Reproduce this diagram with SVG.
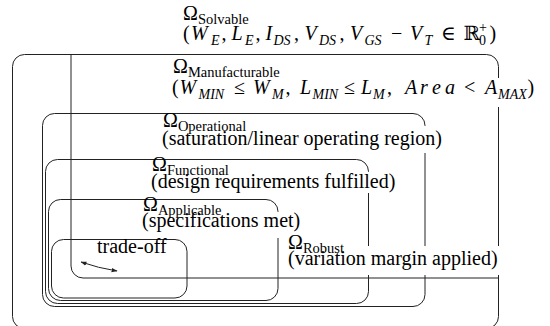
<svg xmlns="http://www.w3.org/2000/svg" width="550" height="326" viewBox="0 0 550 326">
<style>
.box{fill:none;stroke:#222;stroke-width:1}
.bg{fill:#fff}
.t{font-family:"Liberation Serif","Times New Roman","DejaVu Serif",serif;font-size:20px;fill:#000;white-space:pre}
.s{font-size:14.5px}
.m{font-size:14px}
.i{font-style:italic}
.arr{fill:none;stroke:#222;stroke-width:1}
</style>
<defs>
<marker id="ah" viewBox="0 0 10 10" refX="9" refY="5" markerWidth="6" markerHeight="6" orient="auto-start-reverse" markerUnits="userSpaceOnUse">
<path d="M0,1.5 L10,5 L0,8.5 Z" fill="#222"/>
</marker>
</defs>
<rect width="550" height="326" fill="#fff"/>

<g id="manufacturable">
<rect class="box" x="12.5" y="54.5" width="486" height="274" rx="12"/>
</g>
<g id="robust">
<path class="box" d="M71,54.5 V266 A12,12 0 0 0 83,278 H498.5"/>
</g>
<g id="operational">
<rect class="box" x="42.5" y="113.5" width="382.5" height="193" rx="12"/>
</g>
<g id="functional">
<rect class="box" x="45.5" y="159.5" width="323" height="144" rx="12"/>
</g>
<g id="applicable">
<rect class="box" x="48.5" y="199.5" width="229.5" height="101" rx="12"/>
</g>
<g id="tradeoff">
<rect class="box" x="51.5" y="239.5" width="135.5" height="58.5" rx="12"/>
<text class="t" x="97" y="253">trade-off</text>
</g>

<g id="connectors">
<path class="arr" d="M81,262 Q98,268 117,271" marker-start="url(#ah)" marker-end="url(#ah)"/>
</g>

<g id="solvable">
<text class="t" x="183" y="20">Ω<tspan class="s" dy="4">Solvable</tspan></text>
<text class="t"><tspan x="183" y="40">(</tspan><tspan class="i" x="191" y="40">W</tspan><tspan class="m i" x="211" y="44.5">E</tspan><tspan x="221.5" y="40">,</tspan><tspan class="i" x="231.5" y="40">L</tspan><tspan class="m i" x="245" y="44.5">E</tspan><tspan x="255.5" y="40">,</tspan><tspan class="i" x="265.5" y="40">I</tspan><tspan class="m i" x="273.5" y="44.5">DS</tspan><tspan x="294" y="40">,</tspan><tspan class="i" x="304.5" y="40">V</tspan><tspan class="m i" x="319" y="44.5">DS</tspan><tspan x="339.5" y="40">,</tspan><tspan class="i" x="350" y="40">V</tspan><tspan class="m i" x="364.5" y="44.5">GS</tspan><tspan x="391" y="40">−</tspan><tspan class="i" x="410" y="40">V</tspan><tspan class="m i" x="424.5" y="44.5">T</tspan><tspan x="441" y="40">∈</tspan><tspan x="463.5" y="40">ℝ</tspan><tspan class="m" x="479" y="45">0</tspan><tspan class="m" x="479" y="32">+</tspan><tspan x="489.5" y="40">)</tspan></text>
</g>

<g id="manufacturable-label">
<rect class="bg" x="170" y="78" width="368" height="29"/>
<text class="t" x="173" y="73">Ω<tspan class="s" dy="4">Manufacturable</tspan></text>
<text class="t"><tspan x="172" y="94">(</tspan><tspan class="i" x="179.5" y="94">W</tspan><tspan class="m i" x="198.5" y="98.5">MIN</tspan><tspan x="234" y="94">≤</tspan><tspan class="i" x="253" y="94">W</tspan><tspan class="m i" x="272" y="98.5">M</tspan><tspan x="285.5" y="94">,</tspan><tspan class="i" x="300" y="94">L</tspan><tspan class="m i" x="312.5" y="98.5">MIN</tspan><tspan x="344" y="94">≤</tspan><tspan class="i" x="361" y="94">L</tspan><tspan class="m i" x="373" y="98.5">M</tspan><tspan x="387" y="94">,</tspan><tspan class="i" x="405" y="94">A</tspan><tspan class="i" x="420" y="94">r</tspan><tspan class="i" x="432" y="94">e</tspan><tspan class="i" x="445" y="94">a</tspan><tspan x="464" y="94">&lt;</tspan><tspan class="i" x="485" y="94">A</tspan><tspan class="m i" x="498" y="98.5">MAX</tspan><tspan x="527.5" y="94">)</tspan></text>
</g>

<g id="operational-label">
<rect class="bg" x="160" y="126" width="284" height="27"/>
<text class="t" x="163" y="127">Ω<tspan class="s" dy="4">Operational</tspan></text>
<text class="t" x="162" y="145">(saturation/linear operating region)</text>
</g>

<g id="functional-label">
<rect class="bg" x="149" y="172" width="247" height="21"/>
<text class="t" x="152" y="171">Ω<tspan class="s" dy="4">Functional</tspan></text>
<text class="t" x="151" y="188">(design requirements fulfilled)</text>
</g>

<g id="applicable-label">
<rect class="bg" x="140" y="212" width="158" height="26"/>
<text class="t" x="143" y="211">Ω<tspan class="s" dy="4">Applicable</tspan></text>
<text class="t" x="142" y="227">(specifications met)</text>
</g>

<g id="robust-label">
<rect class="bg" x="286" y="246" width="214" height="29"/>
<text class="t" x="288" y="249">Ω<tspan class="s" dy="4">Robust</tspan></text>
<text class="t" x="288" y="265">(variation margin applied)</text>
</g>
</svg>
